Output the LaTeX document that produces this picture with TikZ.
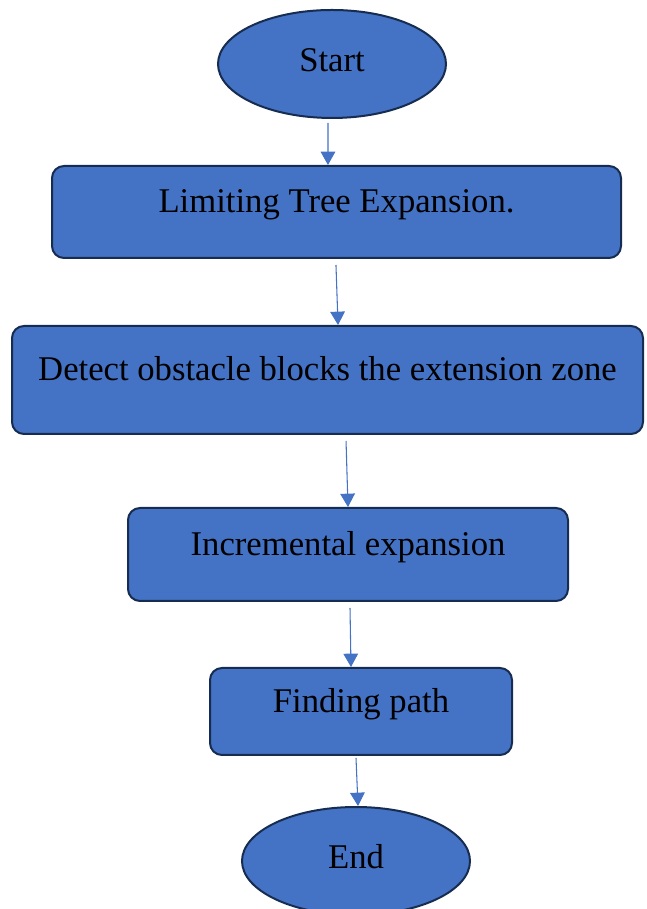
\documentclass[tikz,border=0pt]{standalone}
\usepackage{fontspec}
\setmainfont{Liberation Serif}
\usepackage{tikz}
\usetikzlibrary{shapes,arrows.meta,positioning}

\definecolor{boxblue}{HTML}{4472C4}
\definecolor{boxedge}{HTML}{172C51}

\tikzset{
    stepbox/.style={rectangle, rounded corners=9pt, draw=boxedge, line width=1.5pt,
        fill=boxblue, inner sep=0pt, text height=18pt, text depth=17pt,
        font=\fontsize{26}{30}\selectfont},
    termbox/.style={ellipse, draw=boxedge, line width=1.5pt, fill=boxblue,
        inner sep=0pt, minimum width=171pt, minimum height=81pt,
        text height=18pt, text depth=7pt, font=\fontsize{26}{30}\selectfont},
    arr/.style={draw=boxblue, line width=0.8pt, -{Triangle[width=11pt,length=10pt]}}
}

\begin{document}
\begin{tikzpicture}[x=0.75pt, y=0.75pt]
    \useasboundingbox (0,0) rectangle (646,909);

    % flow boxes, top to bottom
    \node[termbox] (start) at (332,845) {Start};
    \node[stepbox, minimum width=426.75pt, minimum height=69pt] (lim) at (336.5,697) {Limiting Tree Expansion.};
    \node[stepbox, minimum width=473.25pt, minimum height=81pt] (det) at (327.5,529) {Detect obstacle blocks the extension zone};
    \node[stepbox, minimum width=330pt, minimum height=69.75pt] (inc) at (348,354.5) {Incremental expansion};
    \node[stepbox, minimum width=226.5pt, minimum height=65.25pt] (fin) at (361,197.5) {Finding path};
    \node[termbox] (end) at (356,48) {End};

    % arrows
    \draw[arr] ([xshift=-3pt,yshift=-3pt]start.south) -- ([xshift=-6.4pt]lim.north);
    \draw[arr] ([xshift=-0.4pt,yshift=-4.5pt]lim.south) -- ([xshift=7.9pt]det.north);
    \draw[arr] ([xshift=13.9pt,yshift=-4.5pt]det.south) -- (inc.north);
    \draw[arr] ([xshift=1.5pt,yshift=-4.5pt]inc.south) -- ([xshift=-7.5pt]fin.north);
    \draw[arr] ([xshift=-3.75pt,yshift=-1.5pt]fin.south) -- ([xshift=1.5pt]end.north);

\end{tikzpicture}
\end{document}
